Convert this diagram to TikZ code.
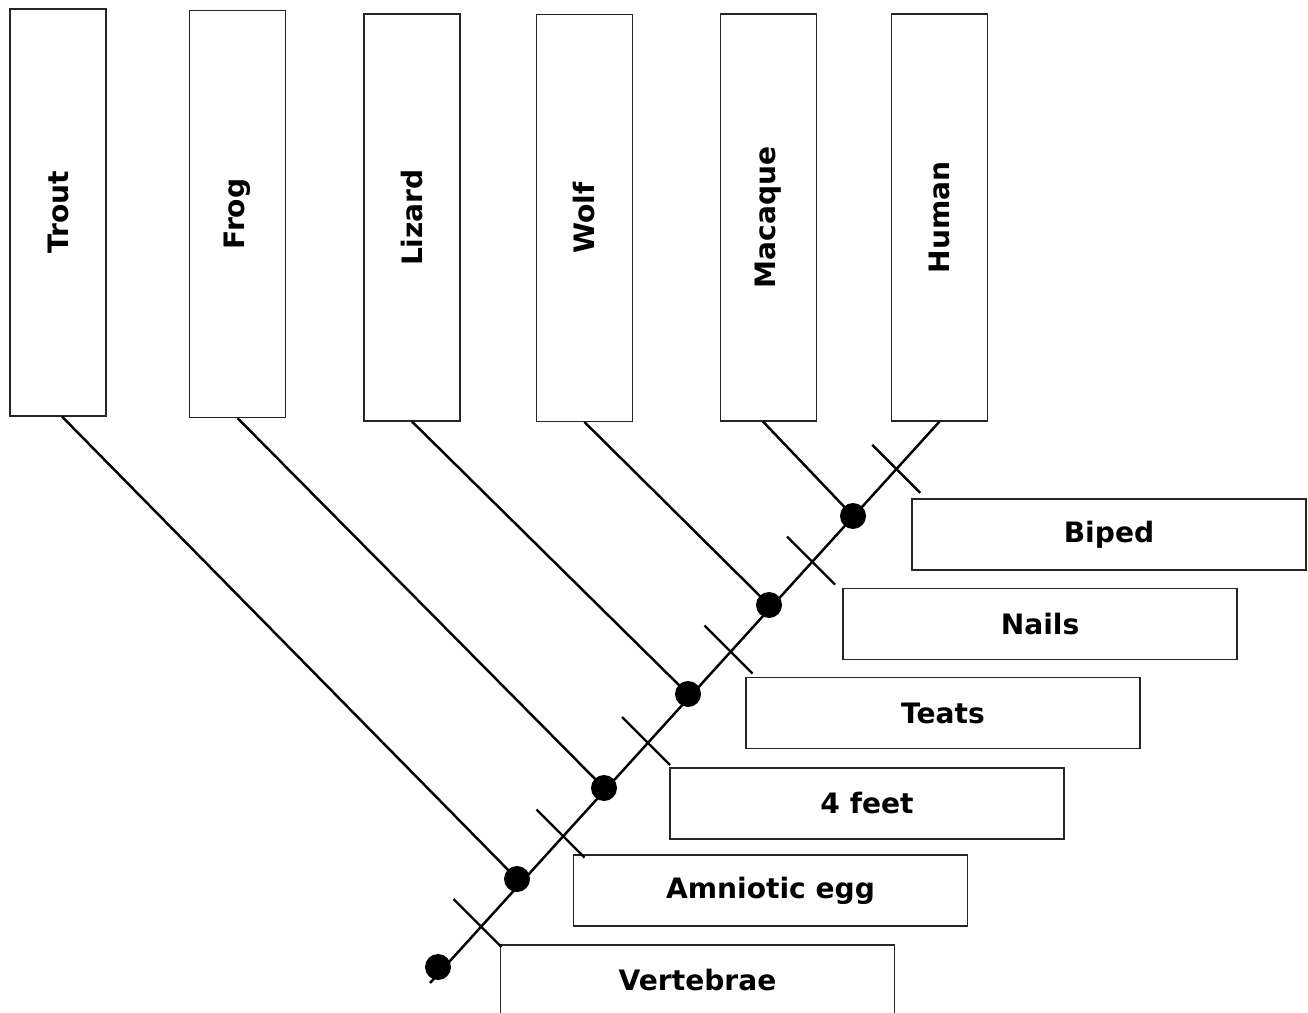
\documentclass[tikz,border=0pt]{standalone}
\usepackage{fontspec}
\setmainfont{DejaVu Sans}
\usetikzlibrary{calc,positioning}

\tikzset{
	taxon/.style={draw=black!85,line width=0.7pt,minimum width=1.92cm,minimum height=8.14cm,inner sep=0pt},
	trait/.style={draw=black!85,line width=0.7pt,minimum width=7.88cm,minimum height=1.42cm,inner sep=0pt},
	label/.style={font=\bfseries\fontsize{16}{19}\selectfont},
	node dot/.style={shape=circle,fill=black,minimum size=0.52cm,inner sep=0pt},
	branch/.style={line width=1.4pt},
}

\begin{document}
\begin{tikzpicture}[x=0.02cm,y=-0.02cm]
		\useasboundingbox (0,0) rectangle (1308,1013);
		\begin{scope}
			% taxa
			\node(trout)   [taxon] at (58,212.5)  {\rotatebox{90}{\bfseries\fontsize{16}{19}\selectfont Trout}};
			\node(frog)    [taxon] at (237.5,214) {\rotatebox{90}{\bfseries\fontsize{16}{19}\selectfont Frog}};
			\node(lizard)  [taxon] at (412,217.5) {\rotatebox{90}{\bfseries\fontsize{16}{19}\selectfont Lizard}};
			\node(wolf)    [taxon] at (584.5,218) {\rotatebox{90}{\bfseries\fontsize{16}{19}\selectfont Wolf}};
			\node(macaque) [taxon] at (768.5,217.5) {\rotatebox{90}{\bfseries\fontsize{16}{19}\selectfont Macaque}};
			\node(human)   [taxon] at (939.5,217.5) {\rotatebox{90}{\bfseries\fontsize{16}{19}\selectfont Human}};
			% traits
			\node(biped)     [trait,label] at (1109,534.5) {Biped};
			\node(nails)     [trait,label] at (1040,624)   {Nails};
			\node(teats)     [trait,label] at (943,713)    {Teats};
			\node(feet)      [trait,label] at (867,803.5)  {4 feet};
			\node(amniotic)  [trait,label] at (770.5,890.5) {Amniotic egg};
			\node(vertebrae) [trait,label] at (697.5,980.5) {Vertebrae};
			% nodes of the tree
			\coordinate(root) at (430,983);
			\node(d0) [node dot] at (438,967) {};
			\node(d1) [node dot] at (517,879) {};
			\node(d2) [node dot] at (604,788) {};
			\node(d3) [node dot] at (688,694) {};
			\node(d4) [node dot] at (769,605) {};
			\node(d5) [node dot] at (853,516) {};
			\path[branch]
				(root) edge (human.south)
				([xshift=0.08cm]trout.south) edge (d1.center)
				(frog.south) edge (d2.center)
				(lizard.south) edge (d3.center)
				(wolf.south) edge (d4.center)
				([xshift=-0.11cm]macaque.south) edge (d5.center);
			% ticks
			\draw[branch] ($(d0)!0.5!(d1)$) ++(-24,-24) -- ++(48,48);
			\draw[branch] ($(d1)!0.5!(d2)$) ++(-24,-24) -- ++(48,48);
			\draw[branch] ($(d2)!0.5!(d3)$) ++(-24,-24) -- ++(48,48);
			\draw[branch] ($(d3)!0.5!(d4)$) ++(-24,-24) -- ++(48,48);
			\draw[branch] ($(d4)!0.5!(d5)$) ++(-24,-24) -- ++(48,48);
			\draw[branch] ($(d5)!0.5!(human.south)$) ++(-24,-24) -- ++(48,48);
		\end{scope}
	\end{tikzpicture}
\end{document}
